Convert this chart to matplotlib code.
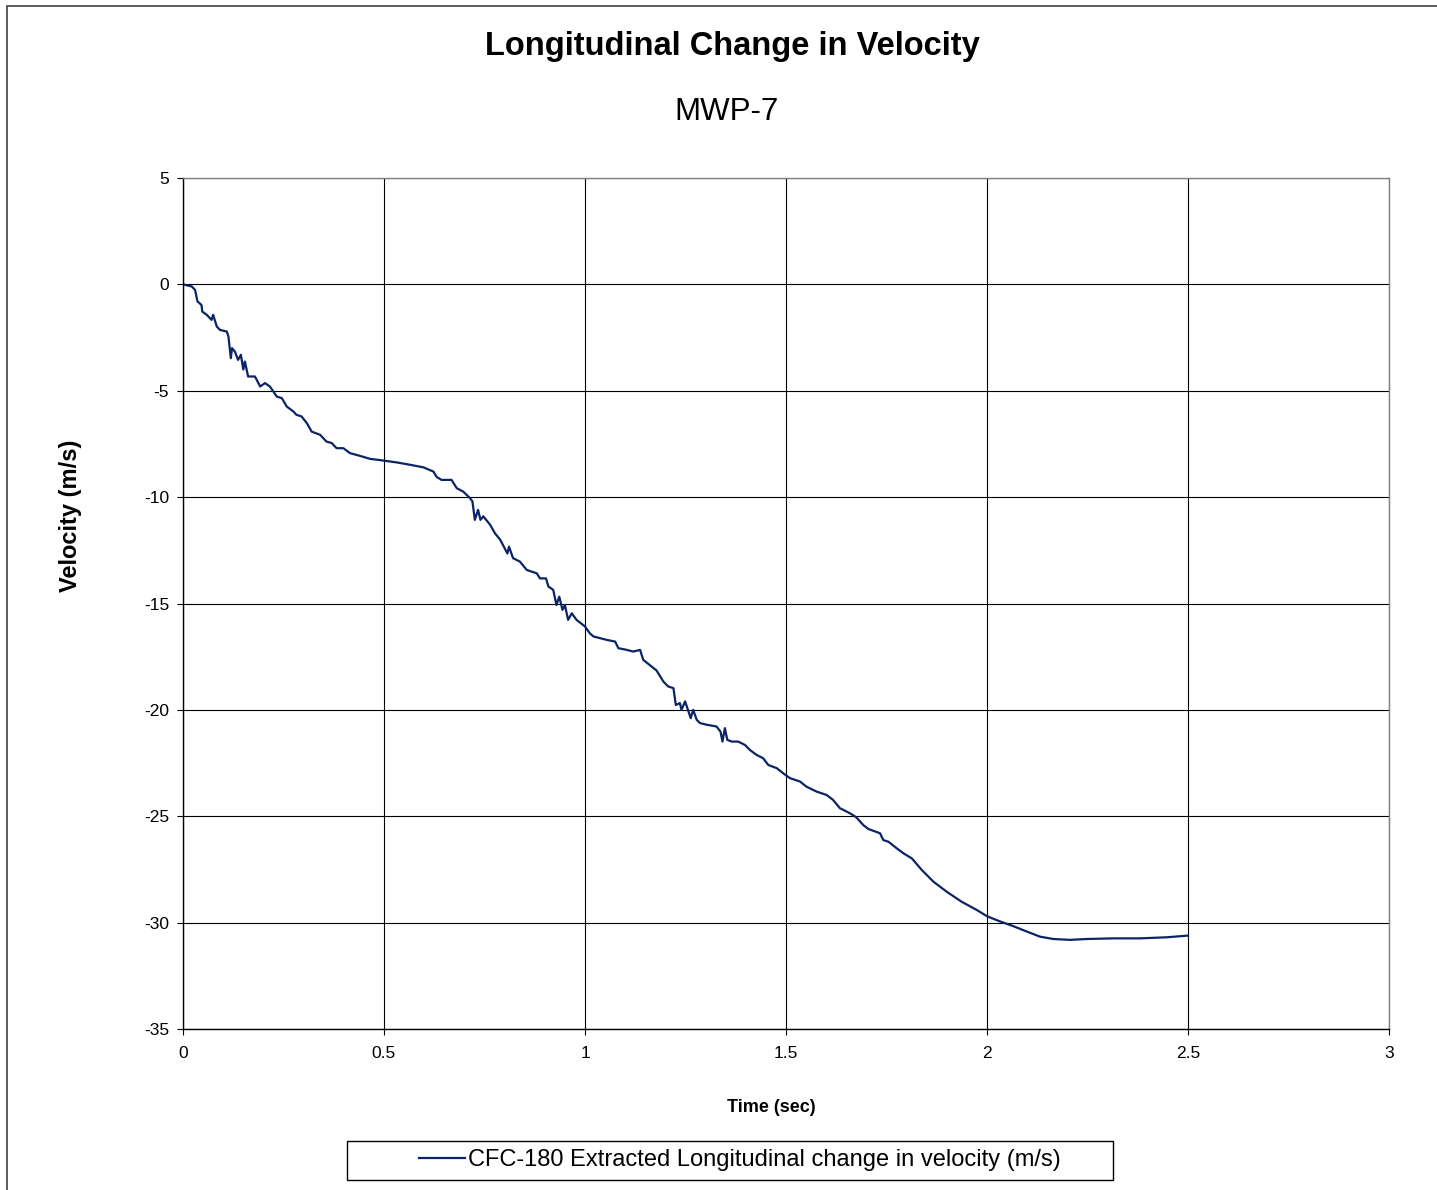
import matplotlib
matplotlib.use("Agg")
import matplotlib.pyplot as plt
from matplotlib.patches import Rectangle
from matplotlib.lines import Line2D

plt.rcParams['font.family'] = ['Liberation Sans', 'DejaVu Sans']

# Longitudinal change in velocity, MWP-7 (CFC-180 filtered)
time_sec = [
    0.000, 0.022, 0.030, 0.036, 0.046, 0.048, 0.059, 0.071, 0.075, 0.084,
    0.092, 0.109, 0.113, 0.119, 0.122, 0.129, 0.137, 0.144, 0.150, 0.154,
    0.162, 0.179, 0.192, 0.204, 0.216, 0.225, 0.233, 0.246, 0.258, 0.275,
    0.282, 0.295, 0.308, 0.320, 0.341, 0.357, 0.370, 0.382, 0.399, 0.415,
    0.440, 0.465, 0.498, 0.532, 0.565, 0.598, 0.623, 0.631, 0.643, 0.668,
    0.681, 0.697, 0.714, 0.720, 0.726, 0.734, 0.740, 0.747, 0.764, 0.776,
    0.789, 0.807, 0.811, 0.821, 0.838, 0.855, 0.867, 0.880, 0.888, 0.903,
    0.909, 0.921, 0.929, 0.936, 0.944, 0.950, 0.958, 0.967, 0.979, 1.000,
    1.012, 1.021, 1.037, 1.054, 1.075, 1.083, 1.104, 1.120, 1.137, 1.145,
    1.162, 1.178, 1.195, 1.207, 1.220, 1.226, 1.236, 1.240, 1.249, 1.263,
    1.269, 1.278, 1.286, 1.303, 1.327, 1.337, 1.342, 1.348, 1.354, 1.365,
    1.381, 1.398, 1.410, 1.427, 1.443, 1.456, 1.477, 1.493, 1.510, 1.535,
    1.551, 1.576, 1.601, 1.617, 1.634, 1.659, 1.675, 1.692, 1.705, 1.734,
    1.742, 1.755, 1.775, 1.792, 1.813, 1.838, 1.867, 1.900, 1.937, 1.975,
    2.000, 2.032, 2.066, 2.099, 2.132, 2.165, 2.206, 2.248, 2.314, 2.380,
    2.446, 2.500,
]
velocity_ms = [
    0.00, -0.10, -0.26, -0.80, -0.97, -1.28, -1.43, -1.67, -1.43, -1.98,
    -2.14, -2.22, -2.45, -3.47, -3.00, -3.16, -3.55, -3.31, -4.00, -3.63,
    -4.33, -4.33, -4.80, -4.64, -4.80, -5.04, -5.27, -5.35, -5.74, -5.98,
    -6.13, -6.21, -6.52, -6.92, -7.07, -7.39, -7.46, -7.70, -7.70, -7.93,
    -8.06, -8.20, -8.28, -8.37, -8.48, -8.60, -8.80, -9.05, -9.19, -9.19,
    -9.58, -9.74, -10.05, -10.20, -11.07, -10.60, -11.07, -10.90, -11.30, -11.70,
    -12.00, -12.65, -12.33, -12.87, -13.03, -13.42, -13.50, -13.58, -13.82, -13.82,
    -14.20, -14.36, -15.07, -14.68, -15.30, -15.07, -15.77, -15.46, -15.77, -16.08,
    -16.40, -16.55, -16.63, -16.71, -16.79, -17.10, -17.18, -17.26, -17.18, -17.65,
    -17.91, -18.15, -18.67, -18.90, -18.98, -19.77, -19.68, -20.00, -19.60, -20.39,
    -20.00, -20.47, -20.62, -20.70, -20.78, -21.02, -21.49, -20.86, -21.41, -21.49,
    -21.49, -21.65, -21.88, -22.12, -22.27, -22.59, -22.74, -22.98, -23.21, -23.37,
    -23.61, -23.84, -24.00, -24.23, -24.62, -24.86, -25.05, -25.41, -25.60, -25.80,
    -26.12, -26.20, -26.50, -26.74, -26.98, -27.53, -28.08, -28.55, -29.02, -29.41,
    -29.70, -29.94, -30.17, -30.42, -30.66, -30.77, -30.81, -30.77, -30.74, -30.74,
    -30.69, -30.61,
]

x_ticks = [0, 0.5, 1, 1.5, 2, 2.5, 3]
x_tick_labels = ["0", "0.5", "1", "1.5", "2", "2.5", "3"]
y_ticks = [5, 0, -5, -10, -15, -20, -25, -30, -35]
y_tick_labels = ["5", "0", "-5", "-10", "-15", "-20", "-25", "-30", "-35"]

title = "Longitudinal Change in Velocity"
subtitle = "MWP-7"
series_label = "CFC-180 Extracted Longitudinal change in velocity (m/s)"

W, H = 1437, 1190
fig = plt.figure(figsize=(W / 100, H / 100), dpi=100)
fig.patch.set_facecolor("white")

# outer chart border
fig.patches.append(Rectangle((7 / W, -0.05), 1.1, 1 - 6 / H + 0.05,
                             transform=fig.transFigure, fill=False,
                             edgecolor="#404040", linewidth=1.2))

ax = fig.add_axes([183 / W, 1 - 1029 / H, (1389 - 183) / W, (1029 - 178) / H])
ax.set_xlim(0, 3)
ax.set_ylim(-35, 5)

ax.set_xticks(x_ticks)
ax.set_xticklabels(x_tick_labels)
ax.set_yticks(y_ticks)
ax.set_yticklabels(y_tick_labels)
ax.tick_params(axis="both", direction="out", length=4, width=0.8,
               labelsize=12.5, color="black")
ax.tick_params(axis="x", pad=8)
ax.tick_params(axis="y", pad=6)

ax.grid(True, color="black", linewidth=0.8)
ax.set_axisbelow(True)

for side in ("top", "right"):
    ax.spines[side].set_color("#808080")
    ax.spines[side].set_linewidth(1.0)
for side in ("left", "bottom"):
    ax.spines[side].set_color("black")
    ax.spines[side].set_linewidth(1.0)

line_color = "#0a2466"
ax.plot(time_sec, velocity_ms, color=line_color, linewidth=1.6,
        solid_joinstyle="round")

fig.text(732 / W, 1 - 46 / H, title, ha="center", va="center",
         fontsize=23.5, fontweight="bold")
fig.text(727 / W, 1 - 112 / H, subtitle, ha="center", va="center",
         fontsize=22.5)

fig.text(771 / W, 1 - 1108 / H, "Time (sec)", ha="center", va="center",
         fontsize=13, fontweight="bold")
fig.text(70 / W, 1 - 516 / H, "Velocity (m/s)", ha="center", va="center",
         rotation=90, fontsize=17, fontweight="bold")

# legend box below the plot
fig.patches.append(Rectangle((347 / W, 1 - 1180 / H), (1113 - 347) / W,
                             (1180 - 1141) / H, transform=fig.transFigure,
                             fill=False, edgecolor="black", linewidth=1.0))
handle = Line2D([], [], color=line_color, linewidth=1.6)
leg = fig.legend([handle], [series_label], loc="center",
                 bbox_to_anchor=(740 / W, 1 - 1160 / H),
                 fontsize=17, frameon=False,
                 handlelength=1.95, handletextpad=0.1,
                 borderpad=0.0, borderaxespad=0)

fig.savefig("out.png", dpi=100, facecolor="white")
